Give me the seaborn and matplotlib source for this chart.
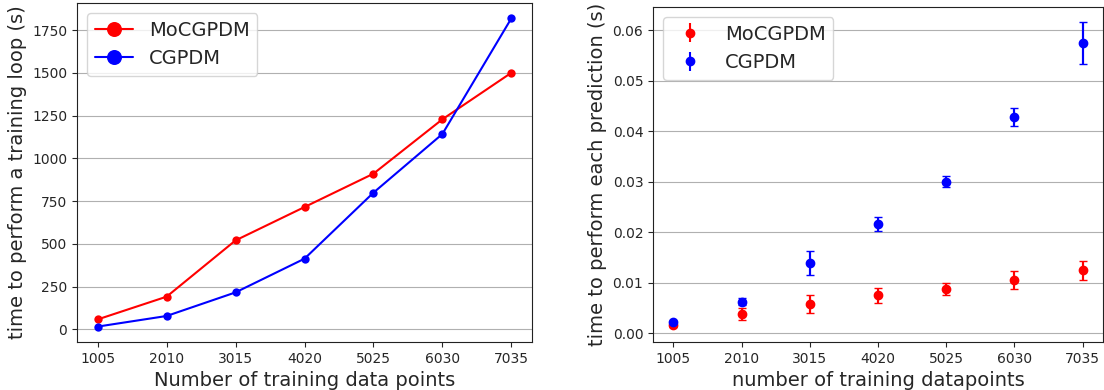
import matplotlib
matplotlib.use("Agg")
import matplotlib.pyplot as plt
import seaborn as sns
import pandas as pd

n_points = [1005, 2010, 3015, 4020, 5025, 6030, 7035]

train_mocgpdm = [58, 191, 520, 715, 910, 1228, 1500]
train_cgpdm = [16, 78, 216, 413, 799, 1142, 1818]

pred_mocgpdm = [0.0017, 0.0039, 0.0058, 0.0075, 0.0087, 0.0106, 0.0125]
pred_mocgpdm_err = [0.0004, 0.0012, 0.0017, 0.0015, 0.0012, 0.0018, 0.0019]
pred_cgpdm = [0.0022, 0.0063, 0.0139, 0.0217, 0.0300, 0.0428, 0.0575]
pred_cgpdm_err = [0.0003, 0.0007, 0.0024, 0.0014, 0.0011, 0.0018, 0.0041]

df = pd.DataFrame({
    "n": n_points * 2,
    "t": train_mocgpdm + train_cgpdm,
    "model": ["MoCGPDM"] * 7 + ["CGPDM"] * 7,
})

sns.set_style("ticks")
plt.rcParams["font.family"] = ["DejaVu Sans"]

fig = plt.figure(figsize=(11.04, 3.9), dpi=100)
ax1 = fig.add_axes([77 / 1104, 48 / 390, 455 / 1104, 339 / 390])
ax2 = fig.add_axes([653 / 1104, 48 / 390, 450 / 1104, 335 / 390])

sns.lineplot(data=df, x="n", y="t", hue="model", palette={"MoCGPDM": "red", "CGPDM": "blue"},
             marker="o", markersize=6, markeredgecolor="none", ax=ax1, zorder=3)
ax1.set_xticks(n_points)
ax1.grid(axis="y", color="#b0b0b0", linewidth=0.8)
ax1.set_xlabel("Number of training data points", fontsize=14)
ax1.set_ylabel("time to perform a training loop (s)", fontsize=14)
ax1.legend(fontsize=14, markerscale=1.8, loc="upper left")

# caps drawn separately so the legend handles show no caps
for y, e, c, lab in [(pred_mocgpdm, pred_mocgpdm_err, "red", "MoCGPDM"),
                     (pred_cgpdm, pred_cgpdm_err, "blue", "CGPDM")]:
    ax2.errorbar(n_points, y, yerr=e, fmt="none", ecolor=c, capsize=3, zorder=3)
    ax2.errorbar(n_points, y, yerr=e, fmt="o", color=c, markersize=6, label=lab, zorder=3)
ax2.set_xticks(n_points)
ax2.grid(axis="y", color="#b0b0b0", linewidth=0.8)
ax2.set_xlabel("number of training datapoints", fontsize=14)
ax2.set_ylabel("time to perform each prediction (s)", fontsize=14)
ax2.legend(fontsize=14, loc="upper left")

for ax in (ax1, ax2):
    ax.tick_params(labelsize=10)
    for s in ax.spines.values():
        s.set_visible(True)
        s.set_color("#222222")

fig.savefig("out.png", dpi=100)
